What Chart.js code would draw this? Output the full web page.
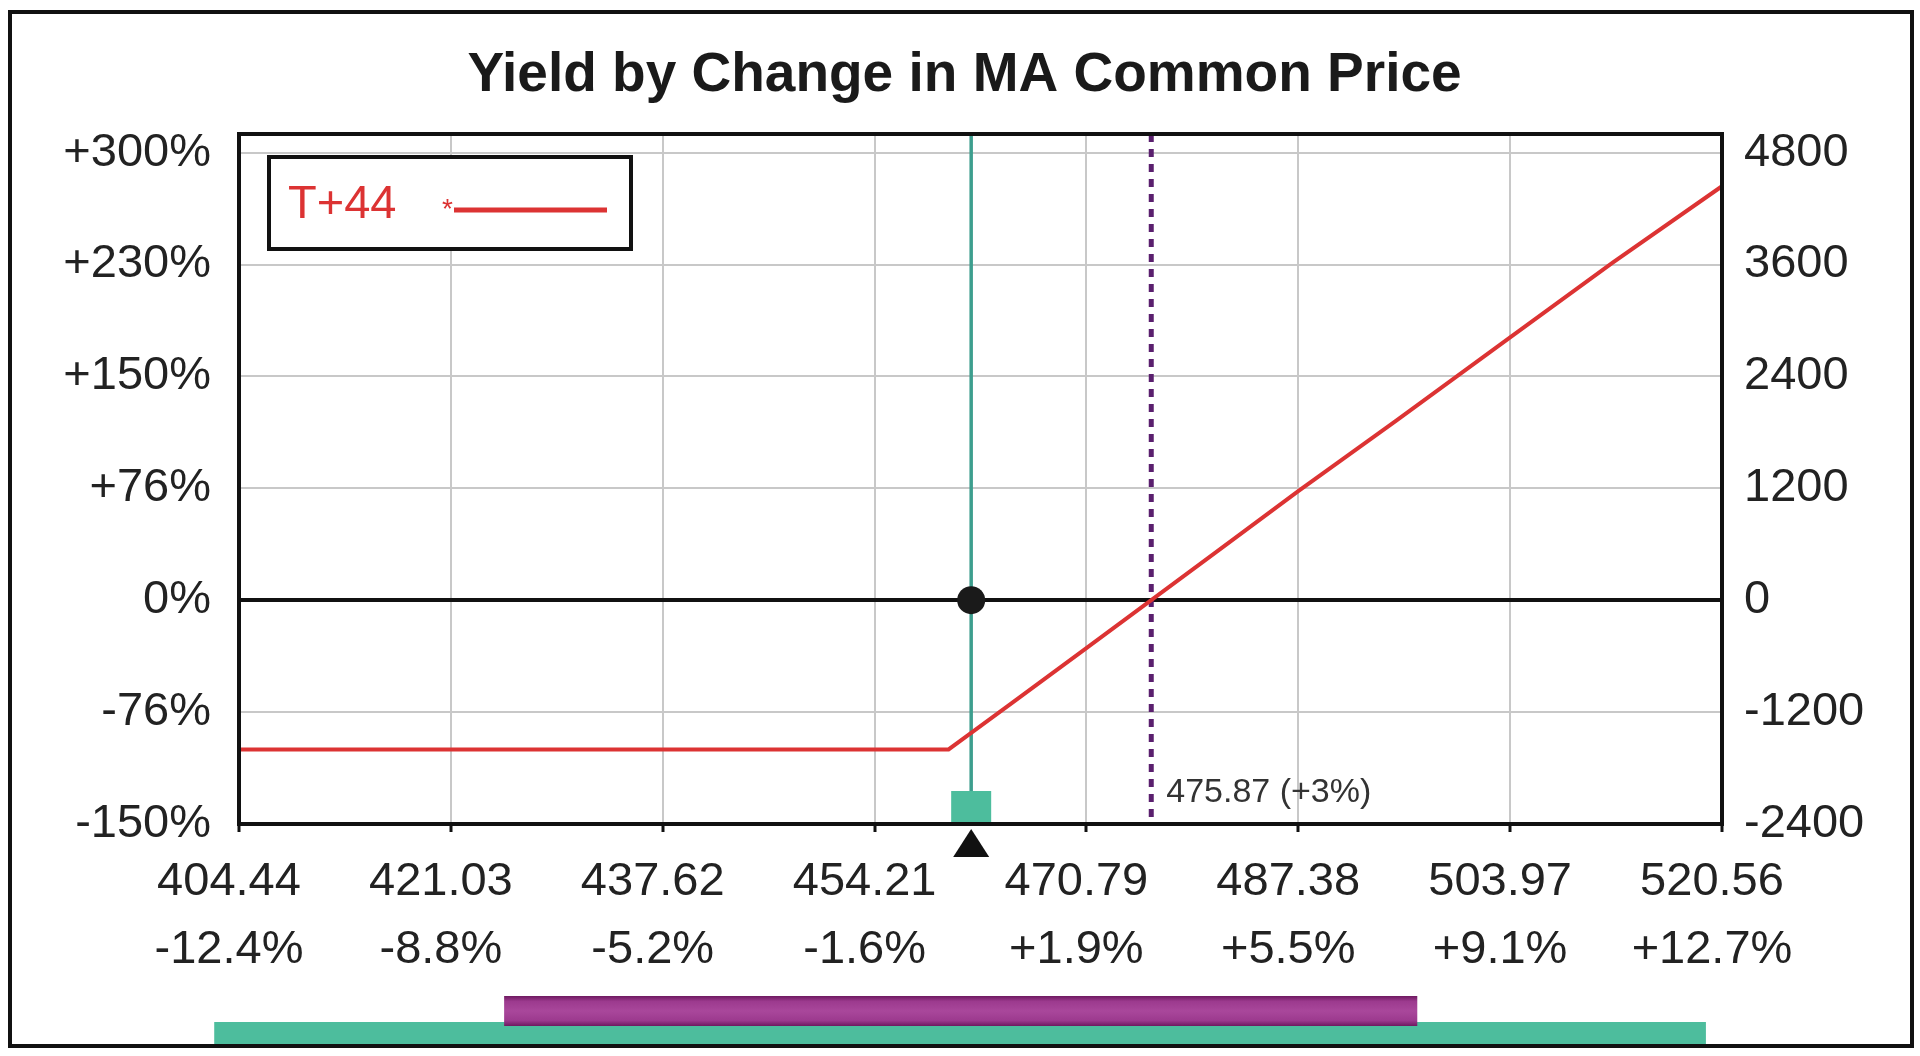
<!DOCTYPE html>
<html><head><meta charset="utf-8">
<script src="https://cdn.jsdelivr.net/npm/chart.js@4.4.1/dist/chart.umd.min.js"></script>
<style>html,body{margin:0;padding:0;background:#fff;overflow:hidden}#wrap{width:1920px;height:1056px;position:relative}</style>
</head><body><div id="wrap"><canvas id="c" width="1920" height="1056"></canvas></div>
<script>
// ---- data ----
const chartTitle = 'Yield by Change in MA Common Price';
const seriesLabel = 'T+44';
const priceX = [404.44, 430.00, 460.00, 461.77, 465.00, 470.79, 475.87, 481.00, 487.38, 495.00, 503.97, 512.00, 520.56];
const yieldY = [-1600, -1600, -1600, -1422, -1098, -514, 0, 520, 1170, 1920, 2820, 3620, 4440];
const xTickPrices = [404.44, 421.03, 437.62, 454.21, 470.79, 487.38, 503.97, 520.56];
const xTickPcts = ['-12.4%', '-8.8%', '-5.2%', '-1.6%', '+1.9%', '+5.5%', '+9.1%', '+12.7%'];
const yTickValues = [-2400, -1200, 0, 1200, 2400, 3600, 4800];
const yTickPcts = ['-150%', '-76%', '0%', '+76%', '+150%', '+230%', '+300%'];
const currentPrice = [461.77];
const breakevenPrice = [475.87];
const breakevenLabel = '475.87 (+3%)';
const outerRange = [402.5, 519.3];
const innerRange = [425.2, 496.7];
const yMin = -2400, yMax = 5000;

const FONT = "'Liberation Sans', Arial, Helvetica, sans-serif";
const RED = '#dc3333', TEAL_LINE = '#3d9e8e', TEAL = '#4dbd9d', PURPLE_DOT = '#5a1f6e';

const overlay = {
  id: 'overlay',
  beforeDraw(chart) {
    const c = chart.ctx; c.save(); c.fillStyle = '#fff'; c.fillRect(0, 0, chart.width, chart.height); c.restore();
  },
  beforeDatasetsDraw(chart) {
    const c = chart.ctx, a = chart.chartArea, xs = chart.scales.x;
    c.save();
    const cx = xs.getPixelForValue(currentPrice[0]);
    c.strokeStyle = TEAL_LINE; c.lineWidth = 3.5;
    c.beginPath(); c.moveTo(cx, a.top); c.lineTo(cx, a.bottom); c.stroke();
    const bx = xs.getPixelForValue(breakevenPrice[0]);
    c.strokeStyle = PURPLE_DOT; c.lineWidth = 5; c.setLineDash([8, 7]);
    c.beginPath(); c.moveTo(bx, a.top); c.lineTo(bx, a.bottom); c.stroke();
    c.setLineDash([]);
    c.fillStyle = '#333'; c.font = '34px ' + FONT; c.textAlign = 'left'; c.textBaseline = 'middle';
    c.fillText(breakevenLabel, bx + 15, a.bottom - 31);
    c.fillStyle = TEAL; c.fillRect(cx - 20, a.bottom - 33, 40, 33);
    c.restore();
  },
  afterDraw(chart) {
    const c = chart.ctx, a = chart.chartArea, xs = chart.scales.x;
    c.save();
    c.strokeStyle = '#111'; c.lineWidth = 4;
    c.strokeRect(a.left, a.top, a.right - a.left, a.bottom - a.top);
    const cx = xs.getPixelForValue(currentPrice[0]);
    c.fillStyle = '#111'; c.beginPath();
    c.moveTo(cx, a.bottom + 5); c.lineTo(cx - 18, a.bottom + 33); c.lineTo(cx + 18, a.bottom + 33); c.closePath(); c.fill();
    // legend box
    const ds = chart.data.datasets[0];
    const lx = a.left + 30, ly = a.top + 23, lw = 362, lh = 92;
    c.fillStyle = '#fff'; c.fillRect(lx, ly, lw, lh);
    c.strokeStyle = '#111'; c.lineWidth = 4; c.strokeRect(lx, ly, lw, lh);
    c.fillStyle = ds.borderColor; c.font = '47px ' + FONT; c.textAlign = 'left'; c.textBaseline = 'middle';
    c.fillText(ds.label, lx + 19, ly + 48);
    c.font = '28px ' + FONT; c.fillText('*', lx + 173, ly + 53);
    c.strokeStyle = ds.borderColor; c.lineWidth = 5;
    c.beginPath(); c.moveTo(lx + 185, ly + 53); c.lineTo(lx + 338, ly + 53); c.stroke();
    // range bars
    const t0 = xs.getPixelForValue(outerRange[0]), t1 = xs.getPixelForValue(outerRange[1]);
    c.fillStyle = TEAL; c.fillRect(t0, 1022, t1 - t0, 23);
    const p0 = xs.getPixelForValue(innerRange[0]), p1 = xs.getPixelForValue(innerRange[1]);
    const g = c.createLinearGradient(0, 996, 0, 1026);
    g.addColorStop(0, '#6e1a60'); g.addColorStop(0.18, '#9c3a8e'); g.addColorStop(0.5, '#a9479b');
    g.addColorStop(0.82, '#9c3a8e'); g.addColorStop(1, '#6e1a60');
    c.fillStyle = g; c.fillRect(p0, 996, p1 - p0, 30);
    // outer frame
    c.strokeStyle = '#111'; c.lineWidth = 4; c.strokeRect(10, 12, 1902, 1034);
    c.restore();
  }
};

const tickFont = { family: FONT, size: 47 };
new Chart(document.getElementById('c'), {
  type: 'line',
  data: {
    datasets: [
      { label: seriesLabel, data: priceX.map((x, i) => ({ x, y: yieldY[i] })), borderColor: RED, borderWidth: 4,
        pointRadius: 0, tension: 0, yAxisID: 'y', order: 2 },
      { label: 'current', data: currentPrice.map(x => ({ x, y: 0 })), showLine: false, pointRadius: 14,
        pointBackgroundColor: '#1a1a1a', pointBorderWidth: 0, yAxisID: 'y', order: 1 }
    ]
  },
  options: {
    responsive: false, animation: false, devicePixelRatio: 1,
    layout: { padding: { left: 9, right: 0, top: 0, bottom: 0 } },
    plugins: {
      legend: { display: false }, tooltip: { enabled: false },
      title: { display: true, text: chartTitle, color: '#1a1a1a', font: { family: FONT, size: 55, weight: 'bold' },
               padding: { top: 43, bottom: 25 } }
    },
    scales: {
      x: {
        type: 'linear', min: xTickPrices[0], max: xTickPrices[xTickPrices.length - 1],
        afterBuildTicks: s => { s.ticks = xTickPrices.map(v => ({ value: v })); },
        ticks: { callback: (v, i) => [xTickPrices[i].toFixed(2), xTickPcts[i]], font: { ...tickFont, lineHeight: 1.45 },
                 color: '#222', padding: 16, maxRotation: 0, autoSkip: false, labelOffset: -10 },
        grid: { color: '#c8c8c8', lineWidth: 2, tickLength: 8, tickColor: '#111', tickWidth: 3 },
        border: { display: false },
        afterFit: s => { s.height = 232; }
      },
      y: {
        position: 'right', min: yMin, max: yMax,
        afterBuildTicks: s => { s.ticks = yTickValues.map(v => ({ value: v })); },
        ticks: { callback: (v, i) => String(yTickValues[i]), font: tickFont, color: '#222', padding: 22 },
        grid: { color: ctx => (ctx.tick && ctx.tick.value === 0) ? '#111' : '#c8c8c8',
                lineWidth: ctx => (ctx.tick && ctx.tick.value === 0) ? 4 : 2, drawTicks: false },
        border: { display: false },
        afterFit: s => { s.width = 198; }
      },
      yL: {
        position: 'left', min: yMin, max: yMax,
        afterBuildTicks: s => { s.ticks = yTickValues.map(v => ({ value: v })); },
        ticks: { callback: (v, i) => yTickPcts[i], font: tickFont, color: '#222', padding: 28 },
        grid: { display: false, drawTicks: false },
        border: { display: false },
        afterFit: s => { s.width = 230; }
      }
    }
  },
  plugins: [overlay]
});
</script></body></html>
